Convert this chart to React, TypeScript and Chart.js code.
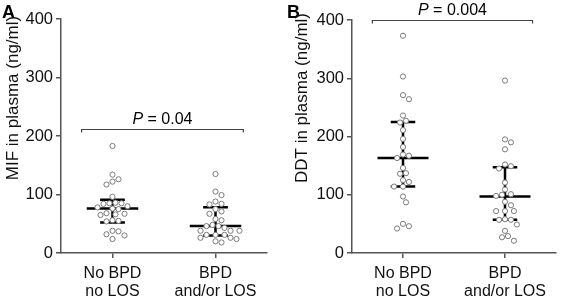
import React, { useEffect, useRef } from "react";
import { Chart, registerables } from "chart.js";

Chart.register(...registerables);

// ---- data ----
const categories: string[][] = [["No BPD", "no LOS"], ["BPD", "and/or LOS"]];
const yTicks = [0, 100, 200, 300, 400];

const mifNoBpd = [183, 134, 126, 122, 117, 96, 86, 85, 85, 84, 80, 78, 76, 75, 68, 67, 66, 65, 56, 55, 54, 38, 37, 32, 30, 24];
const mifBpd = [135, 105, 99, 88, 84, 83, 75, 71, 67, 58, 56, 48, 46, 46, 43, 38, 38, 38, 31, 31, 31, 26, 26, 24, 20, 18];
const ddtNoBpd = [373, 303, 271, 264, 236, 227, 224, 211, 196, 182, 169, 167, 163, 146, 137, 136, 125, 122, 114, 114, 97, 87, 50, 46, 42];
const ddtBpd = [296, 195, 190, 178, 152, 149, 145, 121, 109, 101, 100, 98, 88, 82, 72, 72, 72, 58, 57, 57, 49, 38, 29, 27, 21];

const mifMedian = [76, 46];
const mifQ1 = [52, 30];
const mifQ3 = [91, 78];
const ddtMedian = [163, 97];
const ddtQ1 = [114, 57];
const ddtQ3 = [225, 147];

const pValues = ["0.04", "0.004"];
const bracketLevels = [212, 400];
const panelLetters = ["A", "B"];
const axisTitles = ["MIF in plasma (ng/ml)", "DDT in plasma (ng/ml)"];

const FONT = '"Liberation Sans", Arial, sans-serif';

// simple deterministic beeswarm: returns x positions around the category centre
function swarm(values: number[], center: number, pxPerX: number, pxPerY: number, diam: number) {
  const order = values.map((_, i) => i).sort((a, b) => values[b] - values[a]);
  const placed: { x: number; v: number }[] = [];
  const out: { x: number; y: number }[] = new Array(values.length);
  const step = diam / 2 / pxPerX;
  for (const idx of order) {
    const v = values[idx];
    let chosen = center;
    for (let k = 0; k < 40; k++) {
      const off = k === 0 ? 0 : (k % 2 ? 1 : -1) * Math.ceil(k / 2) * step;
      const x = center + off;
      const hit = placed.some((p) => {
        const dx = (x - p.x) * pxPerX;
        const dy = (v - p.v) * pxPerY;
        return Math.sqrt(dx * dx + dy * dy) < diam;
      });
      if (!hit) {
        chosen = x;
        break;
      }
    }
    placed.push({ x: chosen, v });
    out[idx] = { x: chosen, y: v };
  }
  return out;
}

type PanelCfg = {
  idx: number;
  groups: number[][];
  median: number[];
  q1: number[];
  q3: number[];
  yAxisWidth: number;
  padTop: number;
  padRight: number;
  titleX: number;
  letterX: number;
};

function makeChart(canvas: HTMLCanvasElement, cfg: PanelCfg) {
  const pxPerX = 103;
  const pxPerY = 0.585;
  const datasets = cfg.groups.map((vals, g) => ({
    data: swarm(vals, g + 1, pxPerX, pxPerY, 6),
    pointRadius: 2.6,
    pointBorderWidth: 1,
    pointBorderColor: "#7a7a7a",
    pointBackgroundColor: "#ffffff",
    showLine: false,
  }));

  const overlay = {
    id: "overlay" + cfg.idx,
    beforeDatasetsDraw(chart: any) {
      const ctx = chart.ctx;
      const xs = chart.scales.x;
      const ys = chart.scales.y;
      ctx.save();
      ctx.strokeStyle = "#000";
      ctx.lineWidth = 2.5;
      ctx.lineCap = "butt";
      for (let i = 0; i < 2; i++) {
        const c = i + 1;
        const ym = ys.getPixelForValue(cfg.median[i]);
        const y1 = ys.getPixelForValue(cfg.q1[i]);
        const y3 = ys.getPixelForValue(cfg.q3[i]);
        const xc = xs.getPixelForValue(c);
        ctx.beginPath();
        ctx.moveTo(xs.getPixelForValue(c - 0.25), ym);
        ctx.lineTo(xs.getPixelForValue(c + 0.25), ym);
        ctx.moveTo(xs.getPixelForValue(c - 0.12), y1);
        ctx.lineTo(xs.getPixelForValue(c + 0.12), y1);
        ctx.moveTo(xs.getPixelForValue(c - 0.12), y3);
        ctx.lineTo(xs.getPixelForValue(c + 0.12), y3);
        ctx.moveTo(xc, y1);
        ctx.lineTo(xc, y3);
        ctx.stroke();
      }
      ctx.restore();
    },
    afterDraw(chart: any) {
      const ctx = chart.ctx;
      const xs = chart.scales.x;
      const ys = chart.scales.y;
      ctx.save();
      // bracket
      const by = Math.round(ys.getPixelForValue(bracketLevels[cfg.idx])) + 0.5;
      const bx1 = xs.getPixelForValue(0.7);
      const bx2 = xs.getPixelForValue(2.27);
      ctx.strokeStyle = "#444";
      ctx.lineWidth = 1.2;
      ctx.beginPath();
      ctx.moveTo(bx1, by + 3);
      ctx.lineTo(bx1, by);
      ctx.lineTo(bx2, by);
      ctx.lineTo(bx2, by + 3);
      ctx.stroke();
      // P text
      ctx.fillStyle = "#000";
      ctx.textBaseline = "alphabetic";
      ctx.textAlign = "left";
      const pFont = "italic 16px " + FONT;
      const rFont = "16px " + FONT;
      ctx.font = pFont;
      const wP = ctx.measureText("P").width;
      ctx.font = rFont;
      const rest = " = " + pValues[cfg.idx];
      const wR = ctx.measureText(rest).width;
      const cx = (bx1 + bx2) / 2;
      const sx = cx - (wP + wR) / 2;
      ctx.font = pFont;
      ctx.fillText("P", sx, by - 6);
      ctx.font = rFont;
      ctx.fillText(rest, sx + wP, by - 6);
      // panel letter
      ctx.font = "bold 18px " + FONT;
      ctx.fillText(panelLetters[cfg.idx], cfg.letterX, 18);
      // axis title
      ctx.translate(cfg.titleX, 98);
      ctx.rotate(-Math.PI / 2);
      ctx.textAlign = "center";
      ctx.textBaseline = "middle";
      ctx.font = "17px " + FONT;
      ctx.fillStyle = "#111";
      ctx.fillText(axisTitles[cfg.idx], 0, 0);
      ctx.restore();
    },
  };

  return new Chart(canvas, {
    type: "scatter",
    data: { datasets },
    plugins: [overlay],
    options: {
      animation: false,
      responsive: false,
      layout: { padding: { top: cfg.padTop, right: cfg.padRight, left: 0, bottom: 0 } },
      plugins: { legend: { display: false }, tooltip: { enabled: false } },
      scales: {
        x: {
          type: "linear",
          min: 0.5,
          max: 2.5,
          afterBuildTicks: (scale: any) => {
            scale.ticks = [{ value: 1 }, { value: 2 }];
          },
          afterFit: (scale: any) => {
            scale.height = 45;
          },
          ticks: {
            callback: (v: any) => categories[Number(v) - 1],
            font: { family: FONT, size: 16, lineHeight: 1.15 },
            color: "#111",
            padding: 6,
            maxRotation: 0,
            autoSkip: false,
          },
          grid: { display: true, drawOnChartArea: false, drawTicks: true, tickLength: 5, color: "#555", lineWidth: 1.5 },
          border: { display: true, color: "#555", width: 1.5 },
        },
        y: {
          min: 0,
          max: 400,
          afterBuildTicks: (scale: any) => {
            scale.ticks = yTicks.map((v) => ({ value: v }));
          },
          afterFit: (scale: any) => {
            scale.width = cfg.yAxisWidth;
          },
          ticks: {
            font: { family: FONT, size: 16.5 },
            color: "#111",
            padding: 3,
          },
          grid: { display: true, drawOnChartArea: false, drawTicks: true, tickLength: 5, color: "#555", lineWidth: 1.5 },
          border: { display: true, color: "#555", width: 1.5 },
        },
      },
    },
  } as any);
}

export default function App() {
  const refA = useRef<HTMLCanvasElement>(null);
  const refB = useRef<HTMLCanvasElement>(null);

  useEffect(() => {
    const a = makeChart(refA.current!, {
      idx: 0,
      groups: [mifNoBpd, mifBpd],
      median: mifMedian,
      q1: mifQ1,
      q3: mifQ3,
      yAxisWidth: 61,
      padTop: 19,
      padRight: 13,
      titleX: 13.5,
      letterX: 2,
    });
    const b = makeChart(refB.current!, {
      idx: 1,
      groups: [ddtNoBpd, ddtBpd],
      median: ddtMedian,
      q1: ddtQ1,
      q3: ddtQ3,
      yAxisWidth: 72,
      padTop: 20,
      padRight: 4,
      titleX: 22,
      letterX: 7,
    });
    return () => {
      a.destroy();
      b.destroy();
    };
  }, []);

  return (
    <div style={{ position: "absolute", left: 0, top: 0, width: 561, height: 298, background: "#fff" }}>
      <canvas ref={refA} width={280} height={298} style={{ position: "absolute", left: 0, top: 0 }} />
      <canvas ref={refB} width={281} height={298} style={{ position: "absolute", left: 280, top: 0 }} />
    </div>
  );
}
